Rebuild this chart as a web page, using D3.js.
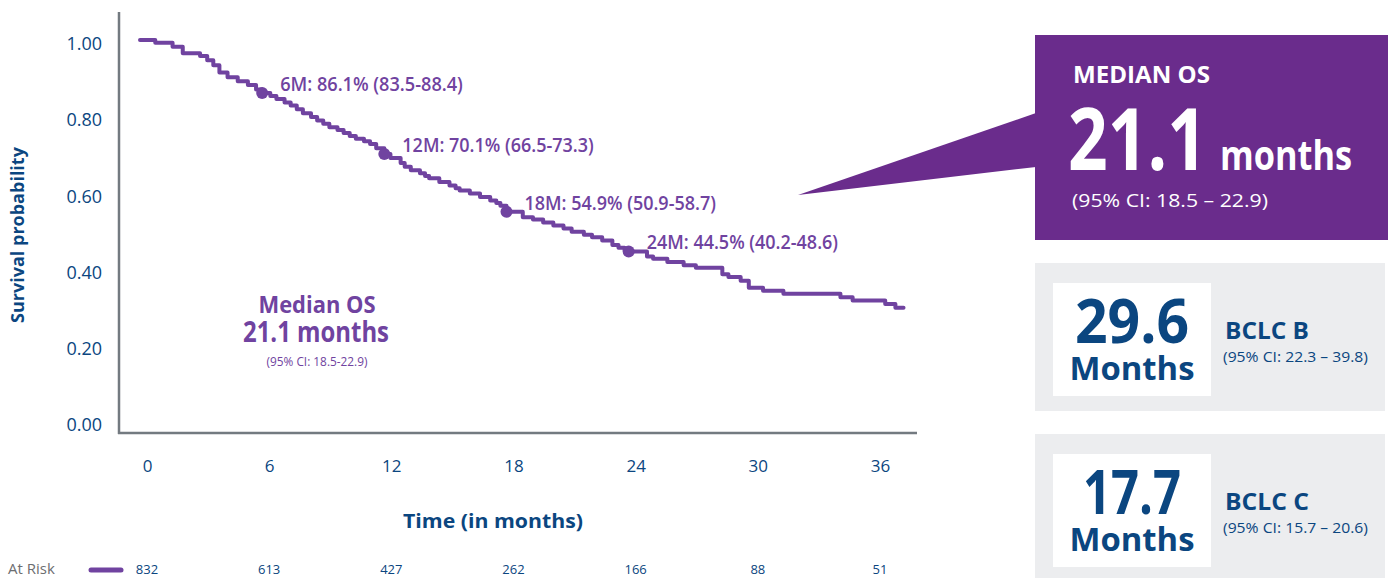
<!DOCTYPE html>
<html>
<head>
<meta charset="utf-8">
<script src="https://cdn.jsdelivr.net/npm/d3@7/dist/d3.min.js"></script>
<style>
  body { margin: 0; background: #fff; }
  text { font-family: "Open Sans", "Noto Sans", sans-serif; }
</style>
</head>
<body>
<div id="chart-area"></div>
<script>
// Kaplan-Meier steps (months, survival probability)
var survTime = [0, 0.75, 1.6, 2.1, 2.95, 3.3, 3.6, 3.9, 4.3, 4.8, 5.3, 5.7, 6.0,
    6.4, 6.7, 7.1, 7.4, 7.7, 8.0, 8.4, 8.7, 9.0, 9.3, 9.7, 10.0, 10.3, 10.6, 11.0,
    11.3, 11.6, 12.0, 12.3, 12.8, 13.0, 13.3, 13.75, 14.0, 14.2, 14.7, 15.2, 15.5,
    15.7, 16.2, 16.7, 17.2, 17.5, 17.7, 18.0, 18.8, 19.3, 19.8, 20.3, 20.8, 21.2,
    21.8, 22.2, 22.7, 23.2, 23.5, 23.8, 24.0, 24.9, 25.2, 25.9, 26.7, 27.3, 28.6,
    28.9, 29.5, 29.9, 30.6, 31.6, 34.4, 35.0, 36.6, 37.1, 37.5];
var survProb = [1.000, 0.993, 0.982, 0.965, 0.958, 0.947, 0.934, 0.915, 0.902, 0.892,
    0.882, 0.870, 0.861, 0.853, 0.845, 0.836, 0.828, 0.818, 0.808, 0.798, 0.789,
    0.780, 0.771, 0.764, 0.756, 0.748, 0.741, 0.734, 0.727, 0.716, 0.701, 0.690,
    0.677, 0.667, 0.658, 0.650, 0.643, 0.637, 0.627, 0.618, 0.611, 0.605, 0.597,
    0.588, 0.579, 0.572, 0.565, 0.549, 0.535, 0.529, 0.521, 0.513, 0.505, 0.497,
    0.489, 0.482, 0.474, 0.462, 0.455, 0.448, 0.445, 0.432, 0.426, 0.417, 0.409,
    0.402, 0.385, 0.378, 0.368, 0.350, 0.342, 0.334, 0.325, 0.316, 0.307, 0.297, 0.297];

var milestoneMonths = [6, 12, 18, 24];
var milestoneProb = [0.861, 0.701, 0.549, 0.445];
var milestoneLabels = ["6M: 86.1% (83.5-88.4)", "12M: 70.1% (66.5-73.3)",
    "18M: 54.9% (50.9-58.7)", "24M: 44.5% (40.2-48.6)"];

var timeTicks = [0, 6, 12, 18, 24, 30, 36];
var probTicks = [0, 0.2, 0.4, 0.6, 0.8, 1.0];
var atRisk = [832, 613, 427, 262, 166, 88, 51];

var subgroupValues = ["29.6", "17.7"];
var subgroupNames = ["BCLC B", "BCLC C"];
var subgroupCI = ["(95% CI: 22.3 \u2013 39.8)", "(95% CI: 15.7 \u2013 20.6)"];

var purple = "#7043a0",
    boxPurple = "#6a2c8c",
    navy = "#0b4680",
    axisGrey = "#737a80";

var svg = d3.select("#chart-area")
    .append("svg")
    .attr("width", 1390)
    .attr("height", 578);

// Scales
var x = d3.scaleLinear().domain([0, 36]).range([140, 873]);
var y = d3.scaleLinear().domain([0, 1]).range([421, 40]);

// Y-axis
var yAxisCall = d3.axisLeft(y)
    .tickValues(probTicks)
    .tickSize(0)
    .tickPadding(17)
    .tickFormat(d3.format(".2f"));
var yAxis = svg.append("g")
    .attr("transform", "translate(119,4)")
    .call(yAxisCall);
yAxis.select(".domain").remove();
yAxis.selectAll("text")
    .attr("font-size", "18px")
    .attr("font-family", "Open Sans")
    .attr("fill", navy);

// X-axis
var xAxisCall = d3.axisBottom(x)
    .tickValues(timeTicks)
    .tickSize(0)
    .tickPadding(27);
var xAxis = svg.append("g")
    .attr("transform", "translate(7,433)")
    .call(xAxisCall);
xAxis.select(".domain").remove();
xAxis.selectAll("text")
    .attr("font-size", "17px")
    .attr("font-family", "Open Sans")
    .attr("fill", navy);

// Axis lines
svg.append("line")
    .attr("x1", 119).attr("x2", 119)
    .attr("y1", 12).attr("y2", 434)
    .attr("stroke", axisGrey)
    .attr("stroke-width", 2.5);
svg.append("line")
    .attr("x1", 118).attr("x2", 917)
    .attr("y1", 433).attr("y2", 433)
    .attr("stroke", axisGrey)
    .attr("stroke-width", 2.5);

// Labels
svg.append("text")
    .attr("transform", "translate(24,235) rotate(-90)")
    .attr("text-anchor", "middle")
    .attr("font-size", "18px")
    .attr("font-weight", 700)
    .attr("fill", navy)
    .text("Survival probability");
svg.append("text")
    .attr("x", 493)
    .attr("y", 528)
    .attr("text-anchor", "middle")
    .attr("font-size", "20px")
    .attr("font-weight", 700)
    .attr("fill", navy)
    .attr("textLength", 180)
    .attr("lengthAdjust", "spacingAndGlyphs")
    .text("Time (in months)");

// Survival curve
var steps = survTime.map(function(t, i) { return { t: t, s: survProb[i] }; });
var line = d3.line()
    .x(function(d) { return x(d.t); })
    .y(function(d) { return y(d.s); })
    .curve(d3.curveStepAfter);
svg.append("path")
    .attr("d", line(steps))
    .attr("fill", "none")
    .attr("stroke", purple)
    .attr("stroke-width", 4)
    .attr("stroke-linejoin", "round")
    .attr("stroke-linecap", "round");

// Milestone dots + labels
milestoneMonths.forEach(function(m, i) {
    svg.append("circle")
        .attr("cx", x(m))
        .attr("cy", y(milestoneProb[i]))
        .attr("r", 6)
        .attr("fill", purple);
    svg.append("text")
        .attr("x", x(m) + 18)
        .attr("y", y(milestoneProb[i]) - 9)
        .attr("dy", "0.35em")
        .attr("font-size", "20px")
        .attr("font-weight", 600)
        .attr("fill", purple)
        .attr("textLength", milestoneLabels[i].length * 8.7)
        .attr("lengthAdjust", "spacingAndGlyphs")
        .text(milestoneLabels[i]);
});

// Median text inside plot
var med = svg.append("g").attr("fill", purple).attr("text-anchor", "middle");
med.append("text")
    .attr("x", 317).attr("y", 313)
    .attr("font-size", "24px").attr("font-weight", 700)
    .attr("textLength", 117).attr("lengthAdjust", "spacingAndGlyphs")
    .text("Median OS");
med.append("text")
    .attr("x", 316).attr("y", 342)
    .attr("font-size", "28px").attr("font-weight", 700)
    .attr("textLength", 146).attr("lengthAdjust", "spacingAndGlyphs")
    .text("21.1 months");
med.append("text")
    .attr("x", 317).attr("y", 366)
    .attr("font-size", "12px")
    .attr("textLength", 101).attr("lengthAdjust", "spacingAndGlyphs")
    .text("(95% CI: 18.5-22.9)");

// At risk row
svg.append("text")
    .attr("x", 8).attr("y", 574)
    .attr("font-size", "15px")
    .attr("fill", "#6d6e71")
    .text("At Risk");
svg.append("line")
    .attr("x1", 91).attr("x2", 121)
    .attr("y1", 570).attr("y2", 570)
    .attr("stroke", purple)
    .attr("stroke-width", 5)
    .attr("stroke-linecap", "round");
svg.selectAll(".risk")
    .data(atRisk)
    .enter().append("text")
    .attr("class", "risk")
    .attr("x", function(d, i) { return x(timeTicks[i]) + 7; })
    .attr("y", 574)
    .attr("text-anchor", "middle")
    .attr("font-size", "13px")
    .attr("fill", navy)
    .text(function(d) { return d; });

// Median OS callout
svg.append("polygon")
    .attr("points", "798,195 1036,113 1036,167")
    .attr("fill", boxPurple);
svg.append("rect")
    .attr("x", 1035).attr("y", 35)
    .attr("width", 353).attr("height", 205)
    .attr("fill", boxPurple);
var callout = svg.append("g").attr("fill", "#fff");
callout.append("text")
    .attr("x", 1073).attr("y", 83)
    .attr("font-size", "23px").attr("font-weight", 700)
    .attr("textLength", 137).attr("lengthAdjust", "spacingAndGlyphs")
    .text("MEDIAN OS");
callout.append("text")
    .attr("x", 1068).attr("y", 170)
    .attr("font-size", "86px").attr("font-weight", 700)
    .attr("textLength", 139).attr("lengthAdjust", "spacingAndGlyphs")
    .text("21.1");
callout.append("text")
    .attr("x", 1220).attr("y", 170)
    .attr("font-size", "42px").attr("font-weight", 700)
    .attr("textLength", 132).attr("lengthAdjust", "spacingAndGlyphs")
    .text("months");
callout.append("text")
    .attr("x", 1072).attr("y", 207)
    .attr("font-size", "19px")
    .attr("textLength", 196).attr("lengthAdjust", "spacingAndGlyphs")
    .text("(95% CI: 18.5 \u2013 22.9)");

// Subgroup boxes
subgroupValues.forEach(function(v, i) {
    var g = svg.append("g").attr("transform", "translate(0," + (i * 171) + ")");
    g.append("rect")
        .attr("x", 1035).attr("y", 263)
        .attr("width", 350).attr("height", 148)
        .attr("fill", "#ecedef");
    g.append("rect")
        .attr("x", 1053).attr("y", 283)
        .attr("width", 158).attr("height", 113)
        .attr("fill", "#fff");
    g.append("text")
        .attr("x", 1132).attr("y", 343)
        .attr("text-anchor", "middle")
        .attr("font-size", "60px").attr("font-weight", 700)
        .attr("fill", navy)
        .attr("textLength", i == 0 ? 114 : 98).attr("lengthAdjust", "spacingAndGlyphs")
        .text(v);
    g.append("text")
        .attr("x", 1132).attr("y", 380)
        .attr("text-anchor", "middle")
        .attr("font-size", "32px").attr("font-weight", 700)
        .attr("fill", navy)
        .attr("textLength", 125).attr("lengthAdjust", "spacingAndGlyphs")
        .text("Months");
    g.append("text")
        .attr("x", 1225).attr("y", 339)
        .attr("font-size", "23px").attr("font-weight", 700)
        .attr("fill", navy)
        .attr("textLength", 84).attr("lengthAdjust", "spacingAndGlyphs")
        .text(subgroupNames[i]);
    g.append("text")
        .attr("x", 1223).attr("y", 362)
        .attr("font-size", "14px")
        .attr("fill", navy)
        .attr("textLength", 145).attr("lengthAdjust", "spacingAndGlyphs")
        .text(subgroupCI[i]);
});
</script>
</body>
</html>
